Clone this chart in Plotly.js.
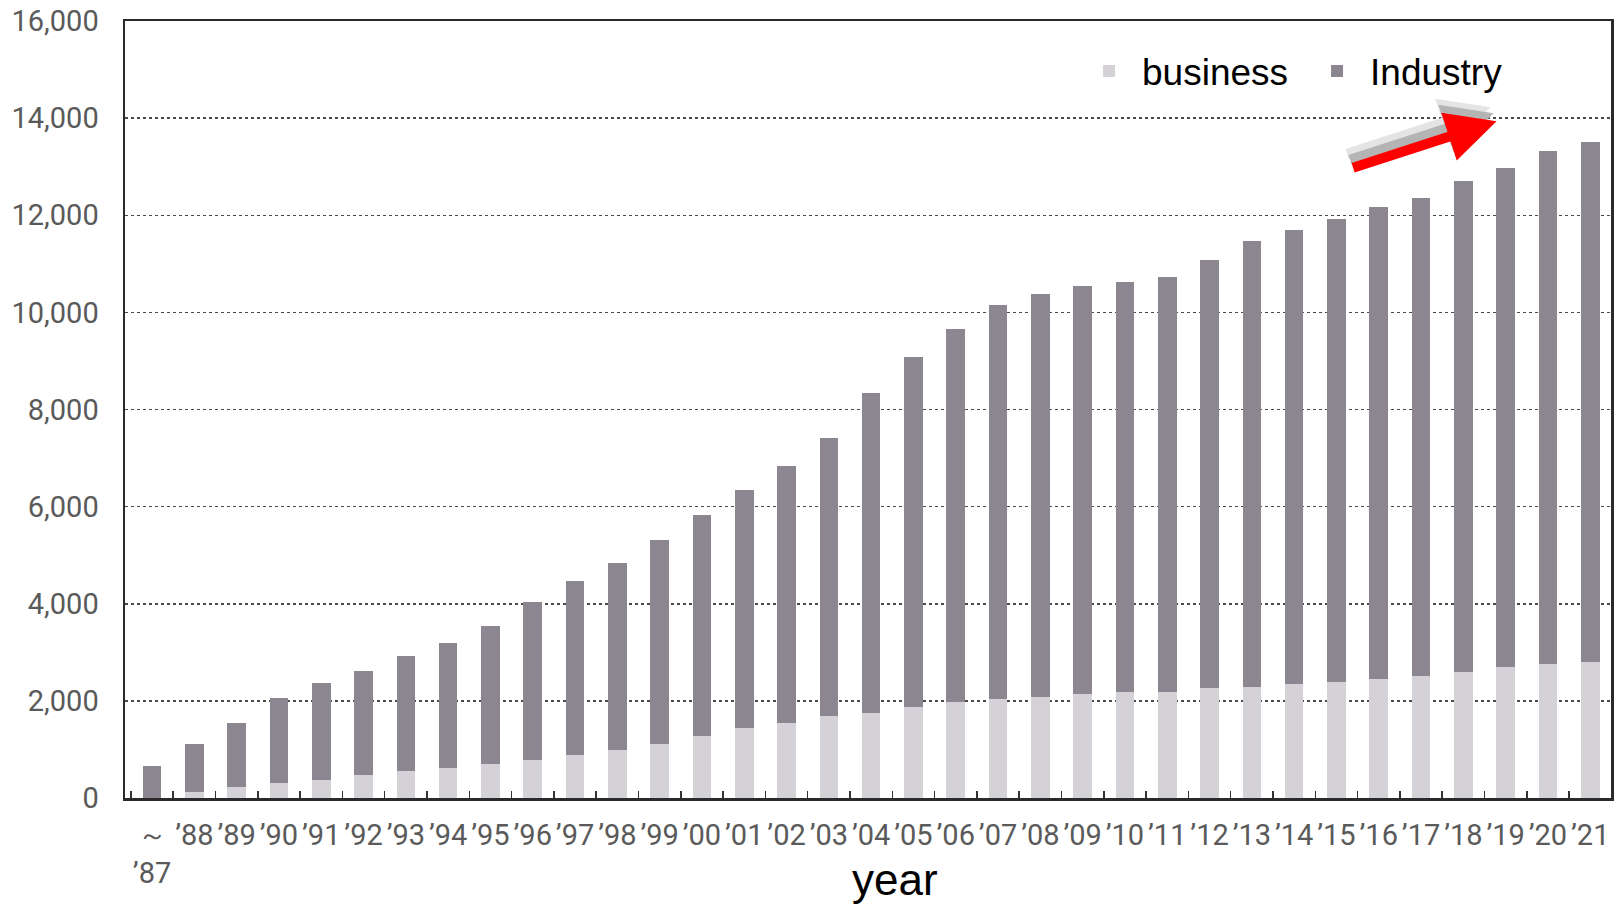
<!DOCTYPE html>
<html>
<head>
<meta charset="utf-8">
<script src="https://cdn.plot.ly/plotly-3.0.1.min.js"></script>
<style>
  html, body { margin: 0; padding: 0; background: #ffffff; }
  #chart { width: 1614px; height: 907px; }
</style>
</head>
<body>
<div id="chart"></div>
<script>
// Fiscal years (the first bar is the cumulative count up to '87)
const years = ["～<br>’87", "’88", "’89", "’90", "’91", "’92", "’93", "’94", "’95", "’96",
  "’97", "’98", "’99", "’00", "’01", "’02", "’03", "’04", "’05", "’06",
  "’07", "’08", "’09", "’10", "’11", "’12", "’13", "’14", "’15", "’16",
  "’17", "’18", "’19", "’20", "’21"];

// Lower (light) segment of each stacked bar
const business = [0, 120, 220, 300, 380, 470, 550, 620, 700, 790,
  880, 980, 1120, 1280, 1440, 1540, 1690, 1760, 1880, 1970,
  2030, 2090, 2140, 2180, 2190, 2270, 2280, 2340, 2380, 2460,
  2510, 2590, 2700, 2750, 2800];

// Upper (dark) segment of each stacked bar
const industry = [650, 1000, 1320, 1750, 1990, 2150, 2370, 2570, 2840, 3250,
  3590, 3860, 4190, 4550, 4900, 5290, 5720, 6590, 7200, 7680,
  8120, 8290, 8400, 8440, 8540, 8810, 9200, 9350, 9550, 9700,
  9850, 10110, 10270, 10570, 10710];

const yTicks = [0, 2000, 4000, 6000, 8000, 10000, 12000, 14000, 16000];
const yTickText = ["0", "2,000", "4,000", "6,000", "8,000", "10,000", "12,000", "14,000", "16,000"];

const tickFont = { family: "Roboto, 'Noto Sans', sans-serif", size: 29, color: "#5a5a5a" };
const arial = "'Liberation Sans', Arial, sans-serif";

const traces = [
  {
    type: "bar", name: "business", x: years, y: business,
    marker: { color: "#d4d2d6", line: { width: 0 } },
    hoverinfo: "x+y+name"
  },
  {
    type: "bar", name: "Industry", x: years, y: industry,
    marker: { color: "#8b8690", line: { width: 0 } },
    hoverinfo: "x+y+name"
  }
];

// Trend arrow in the upper right: two grey shadow layers under a red arrow
const arrowHead = { x: 0.923, y: 0.871 };
const arrowTail = { ax: -145, ay: 47 };
function arrow(dx, dy, color) {
  return {
    xref: "paper", yref: "paper",
    x: arrowHead.x, y: arrowHead.y,
    ax: arrowTail.ax, ay: arrowTail.ay,
    xshift: dx, yshift: dy,
    text: "", showarrow: true,
    arrowhead: 2, arrowsize: 1, arrowwidth: 10,
    arrowcolor: color
  };
}

const layout = {
  width: 1614, height: 907,
  margin: { l: 125, r: 3, t: 21, b: 109 },
  paper_bgcolor: "#ffffff",
  plot_bgcolor: "#ffffff",
  barmode: "stack",
  bargap: 0.56,
  showlegend: true,
  legend: {
    orientation: "h",
    x: 0.640, xanchor: "left",
    y: 0.935, yanchor: "middle",
    bgcolor: "rgba(0,0,0,0)",
    font: { family: arial, size: 37, color: "#000000" },
    traceorder: "normal",
    itemwidth: 56,
    entrywidth: 157, entrywidthmode: "pixels"
  },
  xaxis: {
    type: "category",
    range: [-0.64, 34.49],
    tickangle: 0,
    tickfont: tickFont,
    ticks: "inside", tickson: "boundaries", ticklen: 7, tickwidth: 1.5, tickcolor: "#333",
    ticklabelstandoff: 10,
    showline: true, linecolor: "#2a2a2a", linewidth: 2.5, mirror: true,
    showgrid: false, zeroline: false, fixedrange: true
  },
  yaxis: {
    range: [0, 16000],
    tickvals: yTicks, ticktext: yTickText,
    tickfont: tickFont,
    ticks: "", ticklabelstandoff: 18,
    showline: true, linecolor: "#2a2a2a", linewidth: 2.5, mirror: true,
    showgrid: true, gridcolor: "#4a4a4a", gridwidth: 1.5, griddash: "dot",
    zeroline: false, fixedrange: true
  },
  annotations: [
    arrow(-6, 14, "#e4e4e4"),
    arrow(-3, 8, "#b4b4b4"),
    arrow(0, 0, "#ff0000"),
    {
      // x-axis caption
      xref: "paper", yref: "paper",
      x: 0.518, y: -0.105, xanchor: "center", yanchor: "middle",
      text: "year", showarrow: false,
      font: { family: arial, size: 44, color: "#000000" }
    }
  ]
};

Plotly.newPlot("chart", traces, layout, { displayModeBar: false, staticPlot: true });
</script>
</body>
</html>
